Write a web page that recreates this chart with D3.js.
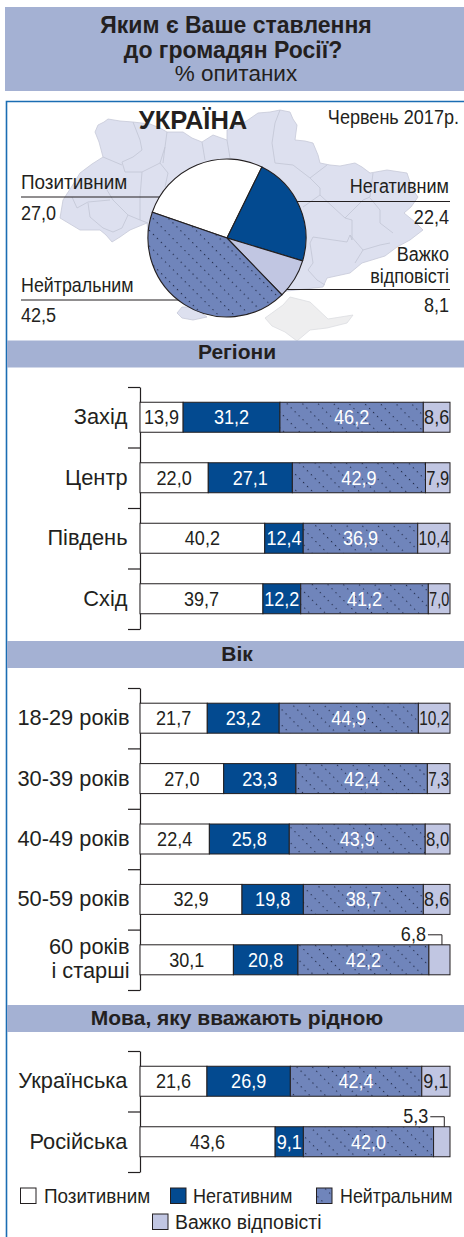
<!DOCTYPE html>
<html><head><meta charset="utf-8">
<script src="https://cdn.jsdelivr.net/npm/d3@7"></script>
<style>html,body{margin:0;padding:0;background:#fff}svg{display:block}text{fill:#231f20}</style>
</head><body><div id="c"></div>
<script>
const seriesNames = ["Позитивним","Негативним","Нейтральним","Важко відповісті"];
const overall = [27.0,22.4,42.5,8.1];
const regionCats = ["Захід","Центр","Південь","Схід"];
const regionVals = [[13.9,31.2,46.2,8.6],[22.0,27.1,42.9,7.9],[40.2,12.4,36.9,10.4],[39.7,12.2,41.2,7.0]];
const ageCats = ["18-29 років","30-39 років","40-49 років","50-59 років",["60 років","і старші"]];
const ageVals = [[21.7,23.2,44.9,10.2],[27.0,23.3,42.4,7.3],[22.4,25.8,43.9,8.0],[32.9,19.8,38.7,8.6],[30.1,20.8,42.2,6.8]];
const langCats = ["Українська","Російська"];
const langVals = [[21.6,26.9,42.4,9.1],[43.6,9.1,42.0,5.3]];
const mapOutline = [[98,125],[104,122],[108,119],[120,121],[133,122],[150,124],[160,128],[167,132],[183,132],[192,138],[202,142],[213,135],[227,140],[227,130],[245,122],[258,113],[270,112],[280,110],[290,112],[293,119],[297,125],[295,140],[305,141],[313,143],[318,155],[320,163],[330,165],[340,166],[355,163],[362,167],[370,173],[387,170],[407,173],[410,182],[413,190],[418,197],[411,207],[404,213],[415,222],[423,230],[410,240],[397,247],[385,256],[362,263],[350,273],[327,278],[323,287],[287,291],[260,300],[200,300],[150,250],[147,223],[130,230],[120,237],[112,242],[106,235],[100,230],[80,230],[70,224],[60,218],[63,200],[72,186],[80,173],[92,164],[103,157],[99,142],[95,132]];
const mapSouth = [[177,313],[182,307],[193,307],[207,317],[193,320],[182,318]];
const crimea = [[265,318],[283,305],[290,297],[310,302],[328,319],[353,315],[347,323],[327,328],[310,330],[297,341],[285,332],[272,326]];
const mapBorders = [
 [[133,122],[140,140],[142,150],[133,157],[122,162],[125,172],[142,172],[160,163],[165,147],[167,132]],
 [[103,157],[122,165]],[[160,163],[168,173],[165,187]],[[142,172],[140,197],[140,220]],
 [[107,190],[113,200],[128,215],[140,220],[148,223]],[[72,197],[77,208],[88,202],[110,200]],
 [[88,203],[90,217],[103,228],[113,232]],[[128,215],[122,228],[113,232]],
 [[202,142],[205,160]],[[227,140],[230,158]],[[165,147],[163,163]],
 [[280,110],[275,123],[272,143],[275,163],[293,165],[310,178],[320,188],[320,195],[303,207]],
 [[310,178],[327,165]],[[320,195],[333,207],[345,218],[363,200],[370,197],[373,173]],
 [[370,198],[380,210],[380,223],[393,233]],[[345,218],[352,220],[352,240]],
 [[310,243],[313,237],[347,242],[350,235],[363,250],[355,263]],[[310,243],[313,263],[308,270],[317,280],[325,285]],
 [[363,250],[380,245],[390,243]],[[352,240],[350,235]]
];

const colors = ["#ffffff","#034a90","url(#hatch)","#c1c6e2"];
const ink = "#231f20", band = "#a4b1d3";
const sans = "'Liberation Sans',Arial,sans-serif";
const narrowX = 0.86;
const valueSize = 21, noteSize = 21;

const svg = d3.select("#c").append("svg").attr("width",464).attr("height",1237);
const defs = svg.append("defs");
const pat = defs.append("pattern").attr("id","hatch").attr("patternUnits","userSpaceOnUse")
  .attr("width",5.6).attr("height",11).attr("patternTransform","rotate(45)");
pat.append("rect").attr("width",5.6).attr("height",11).attr("fill","#7085bb");
pat.append("rect").attr("x",1).attr("y",5).attr("width",1.1).attr("height",1.1).attr("fill","#18203c");

function txt(x,y,s,size,o={}){
  const sx0 = o.sx||1;
  const t = svg.append("text").text(s)
   .attr("font-family",sans).attr("font-size",size)
   .attr("font-weight",o.weight||"normal").attr("text-anchor",o.anchor||"start")
   .style("fill",o.fill||ink);
  let sx = sx0;
  if(o.maxW){ const w=t.node().getComputedTextLength(); sx=Math.min(sx0,o.maxW/w); }
  t.attr("transform",`translate(${x},${y}) scale(${sx},1)`);
  return t;
}

// header
svg.append("rect").attr("x",5).attr("y",7).attr("width",459).attr("height",84).attr("fill",band);
txt(236,33,"Яким є Ваше ставлення",23,{weight:"bold",anchor:"middle"});
txt(233,57.5,"до громадян Росії?",23,{weight:"bold",anchor:"middle"});
txt(236,81,"% опитаних",22.5,{anchor:"middle"});

// frame
svg.append("path").attr("d","M6.5,1237V101.5H464").attr("fill","none").attr("stroke","#1b6db3").attr("stroke-width",1.6);

// map
const line = d3.line();
const mg = svg.append("g");
mg.append("path").attr("d",line(crimea)+"Z").attr("fill","#eeeeef").attr("stroke","#dcdde1").attr("stroke-width",.8);
mg.append("path").attr("d",line(mapOutline)+"Z").attr("fill","#dde0ef").attr("stroke","#c6c9d8").attr("stroke-width",.8);
mg.append("path").attr("d",line(mapSouth)+"Z").attr("fill","#dde0ef").attr("stroke","#c6c9d8").attr("stroke-width",.8);
mg.selectAll("path.b").data(mapBorders).join("path").attr("class","b").attr("d",d=>line(d)).attr("fill","none").attr("stroke","#c2c5d4").attr("stroke-width",.8);

txt(193,129,"УКРАЇНА",25.5,{weight:"bold",anchor:"middle"});
txt(459,124,"Червень 2017р.",21,{anchor:"end",sx:narrowX});

// pie leader lines
[[21,197,160],[21,300,180],[296,201.5,450],[285,289.5,450]].forEach(([a,y,b])=>
  svg.append("line").attr("x1",a).attr("x2",b).attr("y1",y).attr("y2",y).attr("stroke",ink).attr("stroke-width",1));

// pie
const start = -71*Math.PI/180;
const pie = d3.pie().sort(null).startAngle(start).endAngle(start+2*Math.PI);
const pieOrder = [0,1,3,2];
const arc = d3.arc().innerRadius(0).outerRadius(79);
svg.append("g").attr("transform","translate(227,238)").selectAll("path")
  .data(pie(pieOrder.map(i=>overall[i]))).join("path").attr("d",arc)
  .attr("fill",(d,i)=>colors[pieOrder[i]]).attr("stroke",ink).attr("stroke-width",1.1);

const f = v=>v.toFixed(1).replace(".",",");
const N = {sx:narrowX};
const NE = {sx:narrowX,anchor:"end"};
txt(21,189,seriesNames[0],noteSize,{sx:.9});
txt(21,220,f(overall[0]),noteSize,N);
txt(21,292,seriesNames[2],noteSize,{sx:.85});
txt(21,322,f(overall[2]),noteSize,N);
txt(449,193,seriesNames[1],noteSize,NE);
txt(449,224,f(overall[1]),noteSize,NE);
txt(449,261,"Важко",noteSize,NE);
txt(449,283,"відповісті",noteSize,NE);
txt(449,312,f(overall[3]),noteSize,NE);

// section bands + bars
function section(title,bandY,titleY,top,step,cats,vals,labelX){
  svg.append("rect").attr("x",7).attr("y",bandY).attr("width",457).attr("height",27).attr("fill",band);
  txt(237,titleY,title,21,{weight:"bold",anchor:"middle"});
  const n = cats.length;
  const y = d3.scaleLinear().domain([0,n]).range([top,top+step*n]);
  const axis = d3.axisLeft(y).tickValues(d3.range(n+1)).tickFormat("").tickSizeInner(12).tickSizeOuter(0);
  const g = svg.append("g").attr("transform","translate(140,0)").call(axis);
  g.selectAll("path,line").attr("stroke",ink).attr("stroke-width",1.2);
  vals.forEach((row,i)=>{
    const x = d3.scaleLinear().domain([0,d3.sum(row)]).range([140,450]);
    const cy = y(i+.5), h = 30;
    let acc = 0;
    row.forEach((v,j)=>{
      const x0=x(acc), x1=x(acc+v); acc+=v;
      svg.append("rect").attr("x",x0).attr("y",cy-h/2).attr("width",x1-x0).attr("height",h)
        .attr("fill",colors[j]).attr("stroke",ink).attr("stroke-width",1);
      const cx=(x0+x1)/2;
      if(v<7){
        const lx=cx+2.5, ly=cy-h/2-10;
        svg.append("path").attr("d",`M${lx-14},${ly}H${lx}V${cy-h/2}`).attr("fill","none").attr("stroke",ink).attr("stroke-width",1);
        txt(lx-16,ly+6,f(v),valueSize,NE);
      } else {
        txt(cx,cy+7,f(v),valueSize,{anchor:"middle",sx:narrowX,maxW:x1-x0-1.5,fill:j==1||j==2?"#fff":ink});
      }
    });
    const c = cats[i];
    if(Array.isArray(c)){
      txt(labelX,cy-6,c[0],21.8,{anchor:"end"});
      txt(labelX,cy+18,c[1],21.8,{anchor:"end"});
    } else txt(labelX,cy+7,c,21.8,{anchor:"end"});
  });
}
section("Регіони",340.5,359,387,60.5,regionCats,regionVals,127.5);
section("Вік",641,661,688,60.4,ageCats,ageVals,129.5);
section("Мова, яку вважають рідною",1005,1025,1051,60.5,langCats,langVals,127.5);

// legend
const legendX = [.9,.86,.85,.925];
[[20,1188,44,1203],[170,1188,193,1203],[316,1188,340,1203],[152,1214,175,1229]].forEach(([sx,sy,tx,ty],i)=>{
  svg.append("rect").attr("x",sx+.5).attr("y",sy).attr("width",15.5).attr("height",15.5)
    .attr("fill",colors[i]).attr("stroke",ink).attr("stroke-width",1);
  txt(tx,ty,seriesNames[i],noteSize,{sx:legendX[i]});
});
</script></body></html>
